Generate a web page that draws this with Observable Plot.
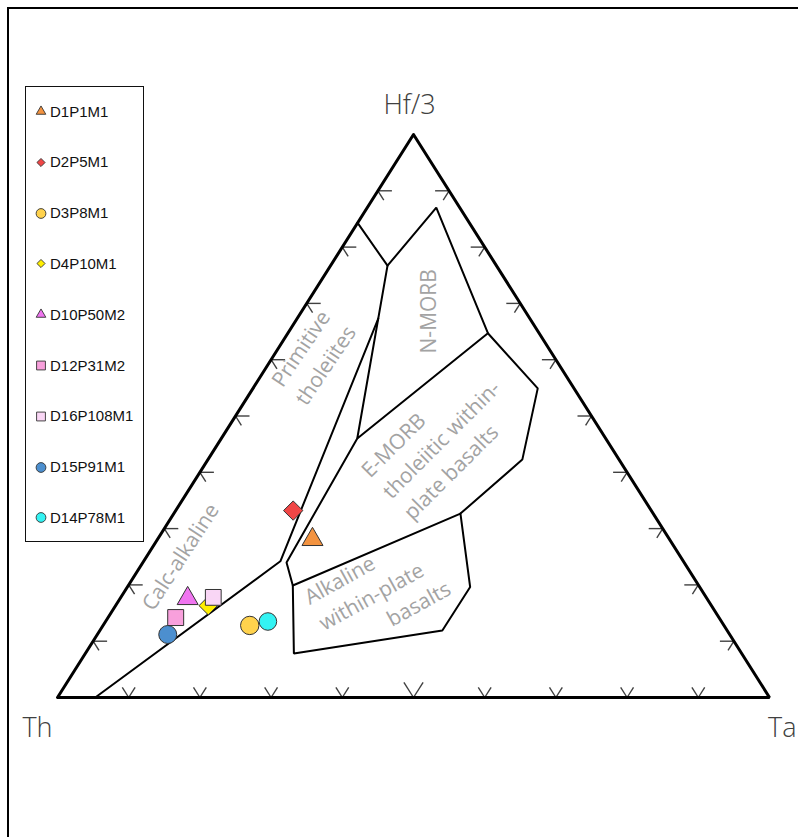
<!DOCTYPE html>
<html><head><meta charset="utf-8">
<script src="https://cdn.jsdelivr.net/npm/d3@7"></script>
<script src="https://cdn.jsdelivr.net/npm/@observablehq/plot@0.6"></script>
<style>
html,body{margin:0;padding:0;background:#fff;overflow:hidden;}
#wrap{position:relative;width:798px;height:837px;overflow:hidden;}
#frame{position:absolute;left:7px;top:7px;width:820px;height:860px;border-left:2px solid #000;border-top:2px solid #000;pointer-events:none;}
#legend{position:absolute;left:25px;top:86px;width:117px;height:454px;border:1.5px solid #111;background:#fff;font-family:"Liberation Sans",Arial,sans-serif;font-size:15px;color:#111;}
.item{position:absolute;left:9px;height:14px;display:flex;align-items:center;white-space:nowrap;}
.item svg{margin-right:3px;}
</style></head><body>
<div id="wrap"><div id="chart"></div><div id="legend"></div><div id="frame"></div></div>
<script>
// ---- sample data (percent Th, Hf/3, Ta) ----
const sampleNames = ["D1P1M1","D2P5M1","D3P8M1","D4P10M1","D10P50M2","D12P31M2","D16P108M1","D15P91M1","D14P78M1"];
const sampleTh = [50.2, 50.3, 66.6, 70.6, 73.0, 76.3, 69.3, 79.0, 63.7];
const sampleHf = [28.1, 33.2, 12.8, 16.3, 17.6, 14.2, 17.8, 11.2, 13.5];
const sampleTa = [21.8, 16.5, 20.6, 13.0,  9.5,  9.5, 13.0,  9.9, 22.8];

// ---- field boundaries (Wood 1980), compositions [Th, Hf/3, Ta] ----
const calcAlkalineBoundary = [[94.7,0,5.3],[56.6,24.2,19.2],[21.3,67.3,11.4]];
const tholeiiteDivide = [[15.7,84.3,0],[15.3,76.7,8.0]];
const nMorbField = [[15.3,76.7,8.0],[3.3,87.0,9.7],[7.2,64.7,28.1],[34.9,46.0,19.1],[15.3,76.7,8.0]];
const eMorbField = [[7.2,64.7,28.1],[5.1,54.9,40.0],[13.6,42.3,44.2],[27.1,32.7,40.3],[57.0,19.9,23.1],[55.9,24.0,20.2],[34.9,46.0,19.1]];
const alkalineField = [[27.1,32.7,40.3],[32.2,19.6,48.1],[40.0,11.9,48.1],[62.9,7.8,29.3],[57.0,19.9,23.1]];

// ---- axis / tick labels ----
const vertexNames = ["Th","Hf/3","Ta"];
const vertexComps = [[100,0,0],[0,100,0],[0,0,100]];
const tickFractions = [0.1,0.2,0.3,0.4,0.5,0.6,0.7,0.8,0.9];

// ---- field labels ----
const fieldLabelTexts = ["Calc-alkaline","Primitive\ntholeiites","N-MORB","E-MORB\ntholeiitic within-\nplate basalts","Alkaline\nwithin-plate","basalts"];
const fieldLabelComps = [[70.4,25.2,4.4],[34.0,60.7,5.3],[13.9,68.6,17.5],[35.9,36.3,27.8],[56.4,15.6,28.0],[46.6,14.0,39.3]];

// ---- styles ----
const sampleStyle = {
  "D1P1M1":   {symbol:"triangle", fill:"#F39340", r:7.8, lsize:40},
  "D2P5M1":   {symbol:"diamond2", fill:"#F04646", r:8.7, lsize:42},
  "D3P8M1":   {symbol:"circle",   fill:"#FFD24D", r:9.2, lsize:75},
  "D4P10M1":  {symbol:"diamond2", fill:"#FFEE00", r:8.3, lsize:42},
  "D10P50M2": {symbol:"triangle", fill:"#F075F0", r:7.8, lsize:40},
  "D12P31M2": {symbol:"square",   fill:"#F8A0DC", r:9.0, lsize:78},
  "D16P108M1":{symbol:"square",   fill:"#F9D6F5", r:8.9, lsize:78},
  "D15P91M1": {symbol:"circle",   fill:"#4C8FCF", r:9.0, lsize:75},
  "D14P78M1": {symbol:"circle",   fill:"#33F3F3", r:8.8, lsize:75}
};
const labelStyle = [
  {rotate:-57, anchor:"middle"},
  {rotate:-56, anchor:"middle"},
  {rotate:-90, anchor:"middle"},
  {rotate:-45, anchor:"start"},
  {rotate:-29, anchor:"start"},
  {rotate:-29, anchor:"start"}
];

// ---- geometry ----
const W = 798, H = 837, mL = 57, mR = 29, mT = 134, mB = 140;
const pw = W - mL - mR, ph = H - mT - mB;
const pxX = 1 / pw, pxY = 1 / ph;
function tern([th, hf, ta]) { const s = th + hf + ta; return {x: (ta + hf / 2) / s, y: hf / s}; }
const eLen = Math.hypot(pw / 2, ph);
const ux = (pw / 2) / eLen, uy = ph / eLen;

const samples = sampleNames.map((n, i) => ({name: n, ...tern([sampleTh[i], sampleHf[i], sampleTa[i]])}));

const ticks = [];
const hor = 14, sl = 11;
for (const f of tickFractions) {
  const L = tern([1 - f, f, 0]);
  ticks.push({x1: L.x, y1: L.y, x2: L.x + hor * pxX, y2: L.y});
  ticks.push({x1: L.x, y1: L.y, x2: L.x + sl * ux * pxX, y2: L.y - sl * uy * pxY});
  const R = tern([0, f, 1 - f]);
  ticks.push({x1: R.x, y1: R.y, x2: R.x - hor * pxX, y2: R.y});
  ticks.push({x1: R.x, y1: R.y, x2: R.x - sl * ux * pxX, y2: R.y - sl * uy * pxY});
  const B = tern([1 - f, 0, f]);
  const bl = Math.abs(f - 0.5) < 1e-9 ? 18 : 12;
  ticks.push({x1: B.x, y1: B.y, x2: B.x - bl * ux * pxX, y2: B.y + bl * uy * pxY});
  ticks.push({x1: B.x, y1: B.y, x2: B.x + bl * ux * pxX, y2: B.y + bl * uy * pxY});
}

const outline = [vertexComps[0], vertexComps[1], vertexComps[2], vertexComps[0], vertexComps[1]].map(tern);
const fields = [calcAlkalineBoundary, tholeiiteDivide, nMorbField, eMorbField, alkalineField];
const fieldLabels = fieldLabelTexts.map((t, i) => ({text: t, ...tern(fieldLabelComps[i]), ...labelStyle[i]}));
const vertexLabels = vertexNames.map((n, i) => ({text: n, ...tern(vertexComps[i])}));
const vOff = [{dx: -20, dy: 31, anchor: "middle"}, {dx: -4, dy: -29, anchor: "middle"}, {dx: 27, dy: 31, anchor: "end"}];

const labelFont = "'Open Sans', 'Noto Sans', sans-serif";
const marks = [];
marks.push(Plot.link(ticks, {x1: "x1", y1: "y1", x2: "x2", y2: "y2", stroke: "#404040", strokeWidth: 1.4}));
for (const f of fields) marks.push(Plot.line(f.map(tern), {x: "x", y: "y", stroke: "#000", strokeWidth: 2, strokeLinejoin: "miter"}));
marks.push(Plot.line(outline, {x: "x", y: "y", stroke: "#000", strokeWidth: 3, strokeLinejoin: "miter"}));
for (const lb of fieldLabels) {
  marks.push(Plot.text([lb], {x: "x", y: "y", text: "text", rotate: lb.rotate, textAnchor: lb.anchor, lineHeight: 1.42,
    fill: "#a3a3a3", fontSize: 21, fontFamily: labelFont, fontWeight: 400}));
}
vertexLabels.forEach((v, i) => {
  marks.push(Plot.text([v], {x: "x", y: "y", text: "text", dx: vOff[i].dx, dy: vOff[i].dy, textAnchor: vOff[i].anchor,
    fill: "#404040", fontSize: 27, fontFamily: labelFont, fontWeight: 300}));
});
for (const s of samples) {
  const st = sampleStyle[s.name];
  marks.push(Plot.dot([s], {x: "x", y: "y", symbol: st.symbol, r: st.r, fill: st.fill, stroke: "#333", strokeWidth: 1}));
}

const chart = Plot.plot({
  width: W, height: H, marginLeft: mL, marginRight: mR, marginTop: mT, marginBottom: mB,
  x: {domain: [0, 1], axis: null},
  y: {domain: [0, 1], axis: null},
  style: {background: "#fff", overflow: "visible"},
  marks
});
document.getElementById("chart").appendChild(chart);

// ---- legend ----
const legend = d3.select("#legend");
sampleNames.forEach((n, i) => {
  const st = sampleStyle[n];
  const it = legend.append("div").attr("class", "item").style("top", (17 + i * 50.8) + "px");
  const svg = it.append("svg").attr("width", 12).attr("height", 12);
  const typeMap = {triangle: d3.symbolTriangle, diamond2: d3.symbolDiamond2, circle: d3.symbolCircle, square: d3.symbolSquare};
  svg.append("path").attr("transform", "translate(6,6.5)")
    .attr("d", d3.symbol(typeMap[st.symbol], st.lsize)())
    .attr("fill", st.fill).attr("stroke", "#333").attr("stroke-width", 0.9);
  it.append("span").text(n);
});
</script></body></html>
